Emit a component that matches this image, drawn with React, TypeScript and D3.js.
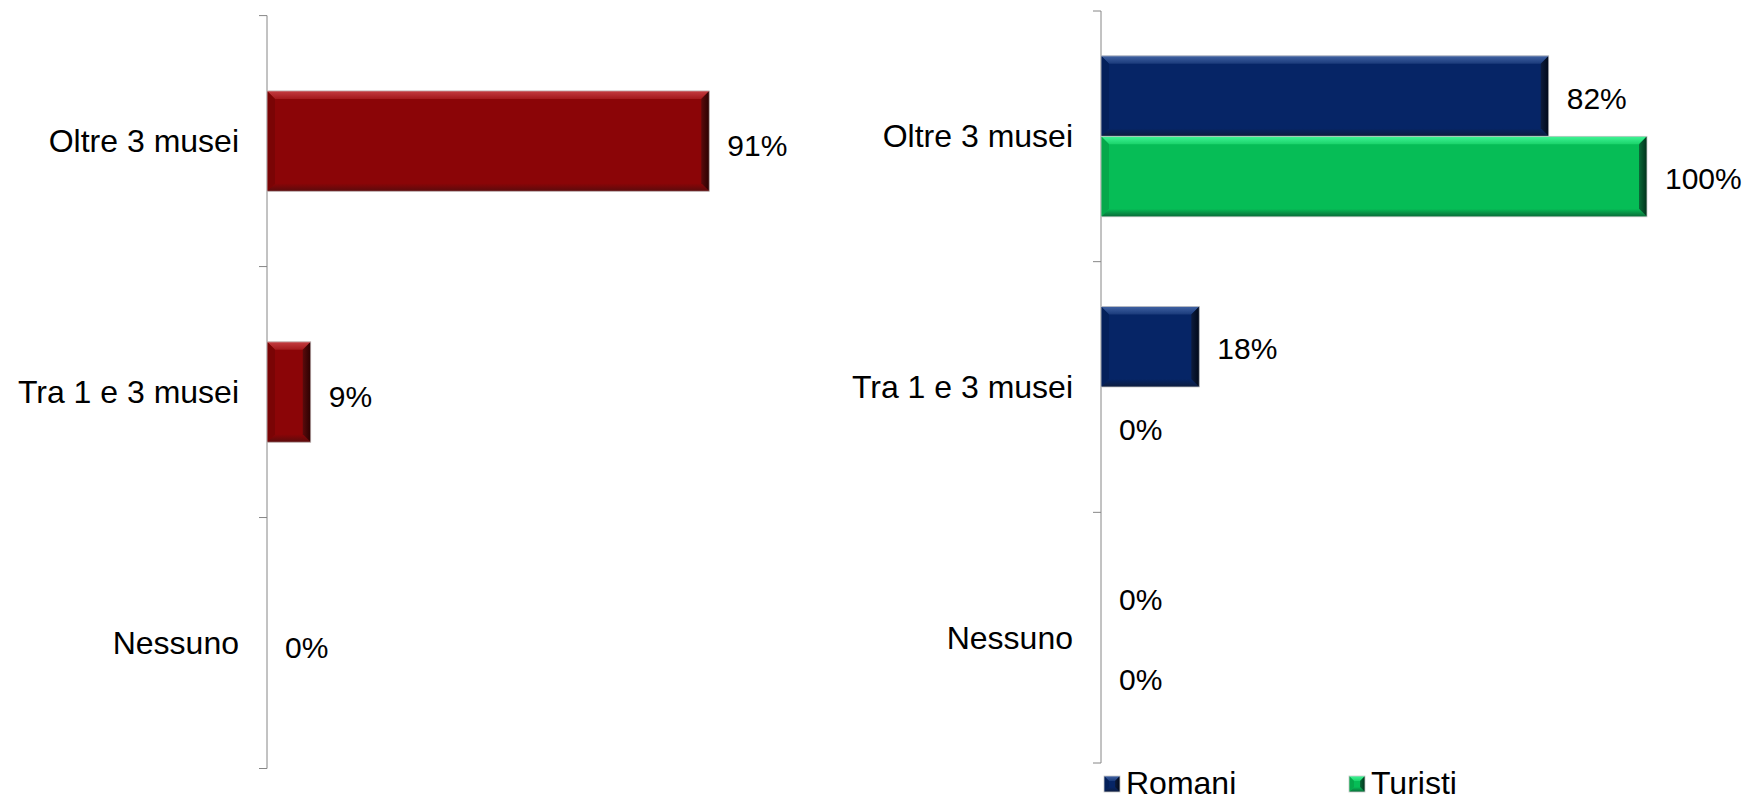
import React from "react";
import * as d3 from "d3";

const categories = ["Oltre 3 musei", "Tra 1 e 3 musei", "Nessuno"];
const leftValues = [91, 9, 0];
const seriesNames = ["Romani", "Turisti"];
const romaniValues = [82, 18, 0];
const turistiValues = [100, 0, 0];

type Pal = { main: string; light: string; lightEdge: string; dark: string; side: string; right: string };
const RED: Pal = { main: "#8b0507", light: "#c43d41", lightEdge: "#a3191c", dark: "#5a0b0c", side: "#7a0405", right: "#2a0000" };
const BLUE: Pal = { main: "#062566", light: "#4062a3", lightEdge: "#1a3a7a", dark: "#0d1c3d", side: "#04205a", right: "#000818" };
const GREEN: Pal = { main: "#06bd56", light: "#40f596", lightEdge: "#1ad36a", dark: "#0a6a38", side: "#05a84b", right: "#00301a" };

const FONT = "'Liberation Sans', Arial, Helvetica, sans-serif";

function BevelBar({ x, y, w, h, pal, id, b0 = 8 }: { x: number; y: number; w: number; h: number; pal: Pal; id: string; b0?: number }) {
  if (w <= 0) return null;
  const b = Math.min(b0, w / 2, h / 2);
  const p = (pts: number[][]) => pts.map((d) => d.join(",")).join(" ");
  return (
    <g>
      <defs>
        <linearGradient id={id + "t"} x1="0" y1="0" x2="0" y2="1">
          <stop offset="0" stopColor={pal.light} />
          <stop offset="1" stopColor={pal.lightEdge} />
        </linearGradient>
        <linearGradient id={id + "r"} x1="0" y1="0" x2="1" y2="0">
          <stop offset="0" stopColor={pal.dark} />
          <stop offset="1" stopColor={pal.right} />
        </linearGradient>
        <linearGradient id={id + "b"} x1="0" y1="0" x2="0" y2="1">
          <stop offset="0" stopColor={pal.main} />
          <stop offset="1" stopColor={pal.dark} />
        </linearGradient>
      </defs>
      <rect x={x} y={y} width={w} height={h} fill={pal.main} />
      <polygon points={p([[x, y], [x + w, y], [x + w - b, y + b], [x + b, y + b]])} fill={`url(#${id}t)`} />
      <polygon points={p([[x, y + h], [x + w, y + h], [x + w - b, y + h - b], [x + b, y + h - b]])} fill={`url(#${id}b)`} />
      <polygon points={p([[x, y], [x + b, y + b], [x + b, y + h - b], [x, y + h]])} fill={pal.side} />
      <polygon points={p([[x + w, y], [x + w - b, y + b], [x + w - b, y + h - b], [x + w, y + h]])} fill={`url(#${id}r)`} />
      <rect x={x} y={y} width={w} height={h} fill="none" stroke="#c8c8c8" strokeWidth={0.8} />
    </g>
  );
}

function Axis({ x, y0, y1, n }: { x: number; y0: number; y1: number; n: number }) {
  const ticks = d3.range(n + 1).map((i) => y0 + ((y1 - y0) * i) / n);
  return (
    <g stroke="#868686" strokeWidth={1}>
      <line x1={x} x2={x} y1={y0} y2={y1} />
      {ticks.map((t, i) => (
        <line key={i} x1={x - 8} x2={x} y1={t} y2={t} />
      ))}
    </g>
  );
}

export default function App() {
  const W = 1744, H = 804;
  const fs = 30;
  const cfs = 32;

  // Left chart
  const lx0 = 267;
  const ly = d3.scaleBand<string>().domain(categories).range([15.6, 768.5]).paddingInner(0.6).paddingOuter(0.3);
  const lxs = d3.scaleLinear().domain([0, 100]).range([lx0, lx0 + 486]);
  const lStep = ly.step();
  const lTop = 15.6;

  // Right chart
  const rx0 = 1101;
  const ry = d3.scaleBand<string>().domain(categories).range([11, 763]).paddingInner(0.358).paddingOuter(0.179);
  const rsub = d3.scaleBand<string>().domain(seriesNames).range([0, ry.bandwidth()]);
  const rxs = d3.scaleLinear().domain([0, 100]).range([rx0, rx0 + 546]);
  const rSeries = [
    { name: "Romani", values: romaniValues, pal: BLUE },
    { name: "Turisti", values: turistiValues, pal: GREEN },
  ];

  return (
    <svg width={W} height={H} style={{ position: "absolute", left: 0, top: 0 }} fontFamily={FONT}>
      <rect width={W} height={H} fill="#fff" />
      {/* Left chart */}
      <Axis x={lx0} y0={lTop} y1={768.5} n={3} />
      {categories.map((c, i) => {
        const cy = lTop + lStep * (i + 0.5);
        return (
          <text key={c} x={239} y={cy} textAnchor="end" dominantBaseline="central" fontSize={cfs} fill="#000">
            {c}
          </text>
        );
      })}
      {categories.map((c, i) => {
        const v = leftValues[i];
        const y = ly(c)!;
        const h = ly.bandwidth();
        const xe = lxs(v);
        return (
          <g key={c}>
            <BevelBar x={lx0} y={y} w={xe - lx0} h={h} pal={RED} id={"l" + i} />
            <text x={xe + 18} y={y + h / 2 + 4} dominantBaseline="central" fontSize={fs} fill="#000">
              {v}%
            </text>
          </g>
        );
      })}

      {/* Right chart */}
      <Axis x={rx0} y0={11} y1={763} n={3} />
      {categories.map((c, i) => {
        const cy = 11 + ry.step() * (i + 0.5);
        return (
          <text key={c} x={1073} y={cy} textAnchor="end" dominantBaseline="central" fontSize={cfs} fill="#000">
            {c}
          </text>
        );
      })}
      {categories.map((c, i) =>
        rSeries.map((s, j) => {
          const v = s.values[i];
          const y = ry(c)! + rsub(s.name)!;
          const h = rsub.bandwidth();
          const xe = rxs(v);
          return (
            <g key={c + s.name}>
              <BevelBar x={rx0} y={y} w={xe - rx0} h={h} pal={s.pal} id={"r" + i + j} />
              <text x={xe + 18} y={y + h / 2 + 2} dominantBaseline="central" fontSize={fs} fill="#000">
                {v}%
              </text>
            </g>
          );
        })
      )}

      {/* Legend */}
      {rSeries.map((s, j) => {
        const lx = j === 0 ? 1104 : 1349;
        return (
          <g key={s.name}>
            <BevelBar x={lx} y={776} w={16} h={16} pal={s.pal} id={"lg" + j} b0={5} />
            <text x={lx + 22} y={783} dominantBaseline="central" fontSize={cfs} fill="#000">
              {s.name}
            </text>
          </g>
        );
      })}
    </svg>
  );
}
